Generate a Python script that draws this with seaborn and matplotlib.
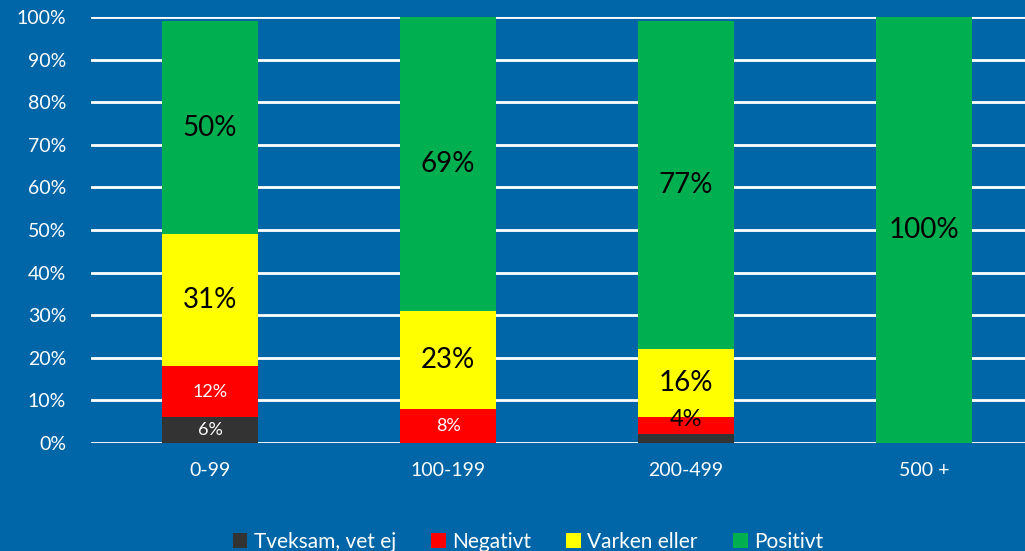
import numpy as np
import pandas as pd
import matplotlib
matplotlib.use("Agg")
import matplotlib.pyplot as plt
import seaborn as sns
from matplotlib.patches import Patch

categories = ["0-99", "100-199", "200-499", "500 +"]
series_names = ["Tveksam, vet ej", "Negativt", "Varken eller", "Positivt"]
tveksam = [6, 0, 2, 0]
negativt = [12, 8, 4, 0]
varken = [31, 23, 16, 0]
positivt = [50, 69, 77, 100]
colors = ["#333333", "#FF0000", "#FFFF00", "#00B050"]
label_colors = ["white", "white", "black", "black"]
label_sizes = [13, 13, 20, 20]

BG = "#0066A8"
sns.set_theme(style="white")
plt.rcParams["font.family"] = ["Lato", "DejaVu Sans"]

values = np.array([tveksam, negativt, varken, positivt], dtype=float)
cum = values.cumsum(axis=0)

fig = plt.figure(figsize=(10.25, 5.51), dpi=100, facecolor=BG)
ax = fig.add_axes([0.0888, 0.196, 0.9112, 0.773])
ax.set_facecolor(BG)

for yv in np.arange(0, 101, 10):
    ax.axhline(yv, color="white", lw=2, zorder=0)

# draw cumulative bars from top series down so they stack
for i in range(len(series_names) - 1, -1, -1):
    df = pd.DataFrame({"cat": categories, "val": cum[i]})
    sns.barplot(data=df, x="cat", y="val", color=colors[i], width=0.4,
                saturation=1, ax=ax, zorder=2, linewidth=0)

# labels
for i in range(len(series_names)):
    for j, cat in enumerate(categories):
        v = values[i, j]
        if v <= 0 or (i == 0 and v < 3):
            continue
        y = cum[i, j] - v / 2
        color = label_colors[i]
        size = label_sizes[i]
        if i == 1 and v < 6:
            y += 1.5
            color = "black"
            size = 17
        ax.text(j, y, f"{int(v)}%", ha="center", va="center",
                color=color, fontsize=size, zorder=5)

ax.set_ylim(0, 100)
ax.set_xlim(-0.5, 3.424)
ax.set_yticks(np.arange(0, 101, 10))
ax.set_yticklabels([f"{t}%" for t in range(0, 101, 10)])
ax.set_xlabel("")
ax.set_ylabel("")
ax.tick_params(axis="both", colors="white", labelsize=14, length=0)
ax.tick_params(axis="x", pad=14)
ax.tick_params(axis="y", pad=18)
for s in ax.spines.values():
    s.set_visible(False)

handles = [Patch(facecolor=c, edgecolor="none") for c in colors]
leg = fig.legend(handles, series_names, loc="lower center", bbox_to_anchor=(0.515, -0.035),
                 ncol=4, frameon=False, fontsize=15, handlelength=0.7, handleheight=0.7,
                 handletextpad=0.3, columnspacing=1.7)
for t in leg.get_texts():
    t.set_color("white")

fig.savefig("out.png", dpi=100, facecolor=BG)
